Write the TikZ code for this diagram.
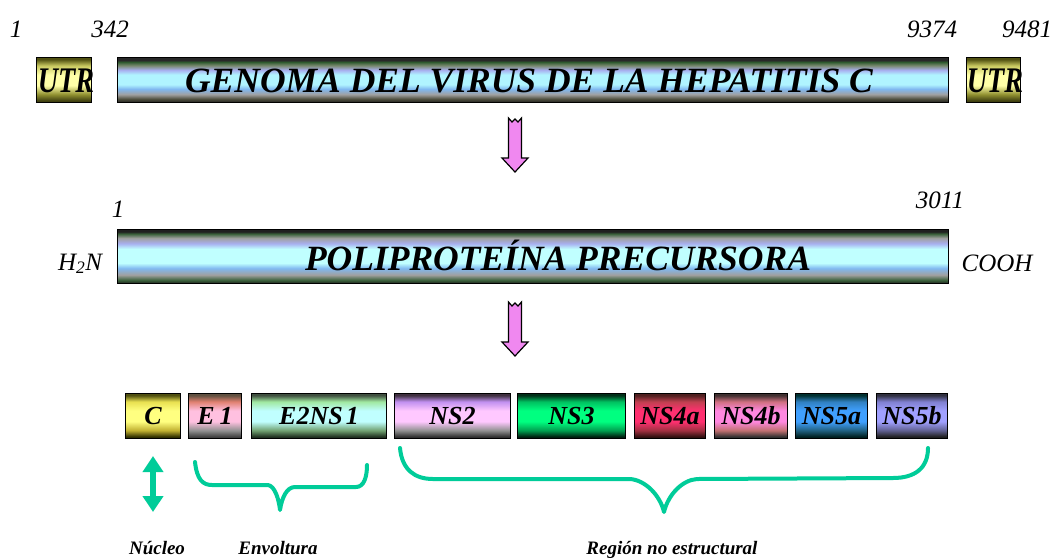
\documentclass[tikz,border=0pt]{standalone}
\usepackage{fontspec}
\setmainfont{Liberation Serif}
\usetikzlibrary{arrows.meta}

\definecolor{tealg}{HTML}{00CC99}
\definecolor{pinkv}{HTML}{F088F0}
% genome / polyprotein colours
\definecolor{gA}{HTML}{202020}
\definecolor{gB}{HTML}{505040}
\definecolor{gC}{HTML}{A0A0A0}
\definecolor{gD}{HTML}{80B8F0}
\definecolor{gE}{HTML}{B0F4FF}
\definecolor{gF}{HTML}{A8B0F0}
\definecolor{gG}{HTML}{7A8A70}
\definecolor{gH}{HTML}{2F5A2F}
\definecolor{gI}{HTML}{282828}
\definecolor{pE}{HTML}{C0FFFF}
\definecolor{pB}{HTML}{3A603A}

\pgfdeclareverticalshading{genome}{100bp}{color(0bp)=(gA); color(25bp)=(gA); color(29bp)=(gB); color(34bp)=(gC); color(40bp)=(gD); color(45bp)=(gE); color(56bp)=(gE); color(61bp)=(gF); color(66bp)=(gG); color(70bp)=(gH); color(72bp)=(gI); color(100bp)=(gI)}
\pgfdeclareverticalshading{poly}{100bp}{color(0bp)=(gA); color(25bp)=(gA); color(28bp)=(pB); color(33bp)=(gC); color(39bp)=(gD); color(44bp)=(pE); color(57bp)=(pE); color(62bp)=(gF); color(67bp)=(gC); color(71bp)=(pB); color(73bp)=(gA); color(100bp)=(gA)}

% generic five-colour box shading: name, bottom dark, bottom mid, centre, top mid, top dark
\newcommand\mkshade[6]{%
  \definecolor{#1a}{HTML}{#2}\definecolor{#1b}{HTML}{#3}\definecolor{#1c}{HTML}{#4}%
  \definecolor{#1d}{HTML}{#5}\definecolor{#1e}{HTML}{#6}%
  \pgfdeclareverticalshading{#1}{100bp}{color(0bp)=(#1a); color(27bp)=(#1a); color(34bp)=(#1b); color(44bp)=(#1c); color(56bp)=(#1c); color(66bp)=(#1d); color(73bp)=(#1e); color(100bp)=(#1e)}}

\mkshade{sUTR}{404010}{909030}{FFFFA8}{C8C860}{505010}
\mkshade{sC}{303000}{C0B030}{FFFF80}{E8E050}{505010}
\mkshade{sEa}{404040}{909090}{FFC0E0}{E08070}{605040}
\mkshade{sEb}{203020}{70A070}{C0FFFF}{A0E8A0}{405040}
\mkshade{sNa}{303030}{909090}{FFC8FF}{C090F0}{403040}
\mkshade{sNb}{002010}{00A050}{00FF80}{00C060}{003018}
\mkshade{sNc}{301010}{A03040}{FF3070}{C04050}{502020}
\mkshade{sNd}{303030}{C07070}{FF88E0}{D07080}{403030}
\mkshade{sNe}{002020}{206080}{40A0FF}{3080C0}{003030}
\mkshade{sNf}{202020}{606090}{A0A0FF}{8080D0}{303040}

\begin{document}
\begin{tikzpicture}[x=1pt,y=-1pt,
  bar/.style={draw=black, line width=1pt, inner sep=0pt, anchor=north west, shade},
  seg/.style={bar, minimum height=45pt, text height=17pt, text depth=0pt,
    font=\fontsize{26}{26}\selectfont\bfseries\itshape},
  bigtxt/.style={inner sep=0pt, anchor=base, font=\fontsize{35.5}{35.5}\selectfont\bfseries\itshape},
  num/.style={inner sep=0pt, anchor=base, font=\fontsize{25}{25}\selectfont\itshape},
  sub/.style={inner sep=0pt, anchor=base, font=\fontsize{19}{19}\selectfont\bfseries\itshape},
  blockarrow/.style={fill=pinkv, draw=black, line width=1.2pt, line join=miter},
  brace/.style={draw=tealg, line width=4pt, line cap=round, line join=round},
  dbl/.style={draw=tealg, line width=6pt, {Triangle[width=20pt,length=16pt]}-{Triangle[width=20pt,length=16pt]}}
]
\useasboundingbox[fill=white] (0,0) rectangle (1060,558);

% ---- top row: genome ----
\node[bar, shading=sUTR, minimum width=55pt, minimum height=45pt] (utrL) at (36,57) {};
\node[bar, shading=genome, minimum width=831pt, minimum height=45pt] (genome) at (117,57) {};
\node[bar, shading=sUTR, minimum width=54pt, minimum height=45pt] (utrR) at (966,57) {};
\node[inner sep=0pt, anchor=base, font=\fontsize{36}{36}\selectfont\bfseries\itshape] (utrLt) at (66,92) {\scalebox{0.78}[1]{UTR}};
\node[inner sep=0pt, anchor=base, font=\fontsize{36}{36}\selectfont\bfseries\itshape] (utrRt) at (995,92) {\scalebox{0.78}[1]{UTR}};
\node[bigtxt] (gtext) at (529,92) {GENOMA DEL VIRUS DE LA HEPATITIS C};

\node[num] (n1) at (16,37) {1};
\node[num] (n342) at (110,37) {342};
\node[num] (n9374) at (932,37) {9374};
\node[num] (n9481) at (1027,37) {9481};

% ---- arrow 1 ----
\coordinate (a1) at (515,118);
\draw[blockarrow, shift={(a1)}] (-6.5,0) -- (-3,4) -- (0,1) -- (3,4) -- (6.5,0) -- (6.5,40) -- (13,40) -- (0,54) -- (-13,40) -- (-6.5,40) -- cycle;

% ---- polyprotein ----
\node[bar, shading=poly, minimum width=831pt, minimum height=54pt] (poly) at (117,229) {};
\node[bigtxt] (ptext) at (558,270) {POLIPROTEÍNA PRECURSORA};
\node[num] (p1) at (118,217) {1};
\node[num] (p3011) at (940,208) {3011};
\node[num] (h2n) at (80,270) {H\textsubscript{\itshape 2}N};
\node[num] (cooh) at (997,271) {COOH};

% ---- arrow 2 ----
\coordinate (a2) at (515,302);
\draw[blockarrow, shift={(a2)}] (-6.5,0) -- (-3,4) -- (0,1) -- (3,4) -- (6.5,0) -- (6.5,40) -- (13,40) -- (0,54) -- (-13,40) -- (-6.5,40) -- cycle;

% ---- segments ----
\node[seg, shading=sC,  minimum width=55pt]  (C)    at (125,393) {C};
\node[seg, shading=sEa, minimum width=53pt]  (E1)   at (188,393) {E\kern5pt 1};
\node[seg, shading=sEb, minimum width=135pt] (E2)   at (251,393) {E2NS\kern3pt 1};
\node[seg, shading=sNa, minimum width=116pt] (NS2)  at (394,393) {NS2};
\node[seg, shading=sNb, minimum width=108pt] (NS3)  at (517,393) {NS3};
\node[seg, shading=sNc, minimum width=71pt]  (NS4a) at (634,393) {NS4a};
\node[seg, shading=sNd, minimum width=73pt]  (NS4b) at (714,393) {NS4b};
\node[seg, shading=sNe, minimum width=72pt]  (NS5a) at (795,393) {NS5a};
\node[seg, shading=sNf, minimum width=71pt]  (NS5b) at (876,393) {NS5b};

% ---- double arrow and braces ----
\coordinate (dTop) at (153,456);
\coordinate (dBot) at (153,512);
\draw[dbl] (dTop) -- (dBot);

\draw[brace] (195,462) .. controls (197,480) and (203,485) .. (212,485) -- (268,485)
  .. controls (275,486) and (279,500) .. (280,510)
  .. controls (282,497) and (287,487) .. (295,487) -- (356,487)
  .. controls (364,487) and (367,477) .. (367,465);

\draw[brace] (400,448) .. controls (402,470) and (415,479) .. (433,479) -- (630,479)
  .. controls (645,480) and (660,495) .. (664,512)
  .. controls (668,495) and (682,480) .. (697,479) -- (893,478)
  .. controls (915,478) and (928,468) .. (928,448);

% ---- bottom labels ----
\node[sub] (nucleo) at (157,554) {Núcleo};
\node[sub] (envol) at (278,554) {Envoltura};
\node[sub] (region) at (672,554) {Región no estructural};
\end{tikzpicture}
\end{document}
